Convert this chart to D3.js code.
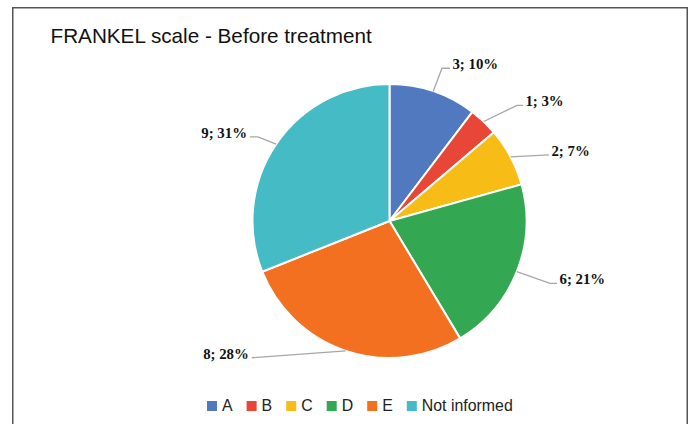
<!DOCTYPE html>
<html>
<head>
<meta charset="utf-8">
<script src="https://cdn.jsdelivr.net/npm/d3@7"></script>
<style>
  html, body { margin: 0; padding: 0; background: #ffffff; }
  svg { display: block; }
</style>
</head>
<body>
<script>
// ---- data ----
const categories = ["A", "B", "C", "D", "E", "Not informed"];
const counts = [3, 1, 2, 6, 8, 9];
const colors = ["#5079BF", "#E84637", "#F8BC17", "#33A752", "#F37021", "#44BBC5"];
const title = "FRANKEL scale - Before treatment";

// ---- layout ----
const W = 693, H = 424;
const cx = 389.5, cy = 221, R = 137;
// label end-point of leader line, polar (degrees clockwise from top, radius) – layout only
const labelPolar = [[21.6, 164.3], [49.1, 176.5], [67.5, 172.6], [110.4, 178.7], [225.2, 194.1], [301.1, 163]];
const stubLen = [8, 6, 0, 7, 0, 8];

const svg = d3.select("body").append("svg").attr("width", W).attr("height", H);

// frame
svg.append("rect")
  .attr("x", 12.75).attr("y", 7.75)
  .attr("width", 674.5).attr("height", 430)
  .attr("fill", "#fff").attr("stroke", "#555").attr("stroke-width", 1.5);

svg.append("text")
  .attr("x", 50.5).attr("y", 42.5)
  .attr("font-family", "'Liberation Sans', Arial, Helvetica, sans-serif")
  .attr("font-size", 20.7)
  .attr("fill", "#111")
  .text(title);

const total = d3.sum(counts);
const data = categories.map((c, i) => ({ cat: c, value: counts[i], color: colors[i], i }));

const pie = d3.pie().value(d => d.value).sort(null);
const arcs = pie(data);
const arc = d3.arc().innerRadius(0).outerRadius(R);

const g = svg.append("g").attr("transform", `translate(${cx},${cy})`);

g.selectAll("path.slice").data(arcs).join("path")
  .attr("class", "slice")
  .attr("d", arc)
  .attr("fill", d => d.data.color)
  .attr("stroke", "#fff")
  .attr("stroke-width", 2)
  .attr("stroke-linejoin", "round");

// labels with leader lines
const toXY = (deg, r) => {
  const a = deg * Math.PI / 180;
  return [r * Math.sin(a), -r * Math.cos(a)];
};

arcs.forEach((d, i) => {
  const mid = (d.startAngle + d.endAngle) / 2;
  const p0 = [R * Math.sin(mid), -R * Math.cos(mid)];
  const end = toXY(labelPolar[i][0], labelPolar[i][1]);
  const right = end[0] > 0;
  const elbow = [end[0] - (right ? stubLen[i] : -stubLen[i]), end[1]];
  g.append("path")
    .attr("d", d3.line()([p0, elbow, end]))
    .attr("fill", "none")
    .attr("stroke", "#a6a6a6")
    .attr("stroke-width", 1.3);
  const pct = Math.round(d.data.value / total * 100);
  g.append("text")
    .attr("x", end[0] + (right ? 2.5 : -3))
    .attr("y", end[1] + 0.8)
    .attr("text-anchor", right ? "start" : "end")
    .attr("font-family", "'Liberation Serif', 'Times New Roman', serif")
    .attr("font-weight", "bold")
    .attr("font-size", 14.8)
    .attr("fill", "#111")
    .text(`${d.data.value}; ${pct}%`);
});

// legend
const legend = svg.append("g");
let lx = 207;
const ly = 401;
data.forEach(d => {
  legend.append("rect")
    .attr("x", lx).attr("y", ly).attr("width", 10).attr("height", 10)
    .attr("fill", d.color);
  const t = legend.append("text")
    .attr("x", lx + 15).attr("y", ly + 10.3)
    .attr("font-family", "'Liberation Sans', Arial, Helvetica, sans-serif")
    .attr("font-size", 15.9)
    .attr("fill", "#222")
    .text(d.cat);
  lx += 15 + t.node().getComputedTextLength() + 14;
});
</script>
</body>
</html>
